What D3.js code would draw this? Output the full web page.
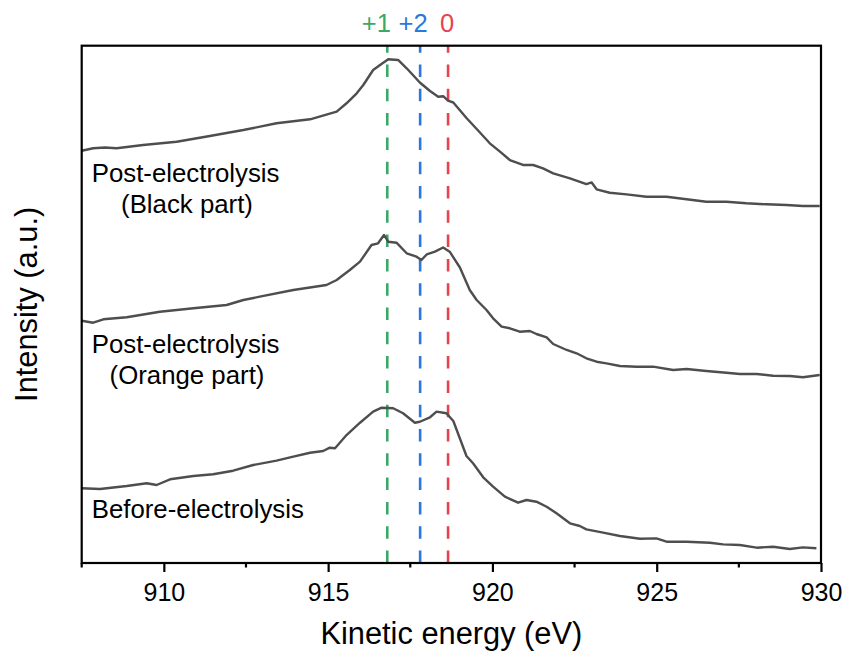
<!DOCTYPE html>
<html>
<head>
<meta charset="utf-8">
<script src="https://cdn.jsdelivr.net/npm/d3@7"></script>
<style>
  html, body { margin: 0; padding: 0; background: #fff; }
  svg { display: block; font-family: "Liberation Sans", Arial, Helvetica, sans-serif; }
</style>
</head>
<body>
<svg id="chart" width="847" height="655"></svg>
<script>
// Cu LMM Auger spectra, stacked with vertical offsets (a.u.)
const blackEnergy = [907.50, 907.85, 908.21, 908.56, 909.37, 910.39, 911.40, 912.42, 913.43, 914.45, 915.26, 915.56, 915.87, 916.07, 916.37, 916.58, 916.83, 917.13, 917.39, 917.79, 918.10, 918.35, 918.50, 918.65, 918.81, 919.21, 919.62, 919.92, 920.23, 920.53, 920.93, 921.24, 921.54, 921.85, 922.36, 922.86, 923.02, 923.17, 923.57, 924.08, 924.69, 925.30, 925.91, 926.51, 927.12, 927.73, 928.34, 928.95, 929.45, 929.96];
const blackIntensity = [79.70, 80.17, 80.32, 80.17, 80.80, 81.44, 82.54, 83.70, 85.00, 85.77, 87.24, 88.87, 90.80, 92.40, 95.30, 96.27, 97.37, 97.24, 95.63, 92.89, 91.24, 90.14, 90.24, 89.37, 89.02, 86.02, 83.22, 81.13, 79.51, 77.90, 76.94, 76.94, 76.30, 75.33, 74.37, 73.26, 73.56, 72.24, 71.58, 71.27, 70.81, 70.81, 70.31, 69.84, 69.84, 69.53, 69.34, 69.21, 69.01, 69.01];

const orangeEnergy = [907.50, 907.85, 908.16, 908.87, 909.88, 910.90, 911.91, 912.42, 912.92, 913.94, 914.95, 915.26, 915.66, 915.97, 916.32, 916.52, 916.70, 916.83, 917.08, 917.39, 917.69, 917.84, 918.00, 918.25, 918.50, 918.70, 919.01, 919.31, 919.52, 919.82, 920.02, 920.28, 920.53, 920.83, 921.14, 921.34, 921.65, 921.85, 922.26, 922.56, 922.86, 923.17, 923.47, 923.88, 924.39, 924.89, 925.50, 925.91, 926.51, 927.12, 927.53, 928.04, 928.54, 929.05, 929.45, 929.96];
const orangeIntensity = [46.84, 46.45, 47.11, 47.50, 48.58, 49.24, 49.87, 50.84, 51.48, 52.77, 53.74, 54.71, 56.64, 58.25, 61.47, 61.80, 63.41, 62.11, 61.92, 59.87, 59.21, 58.57, 59.64, 60.18, 60.99, 60.18, 57.12, 52.77, 50.84, 48.91, 47.30, 45.68, 45.37, 44.71, 44.85, 44.27, 43.63, 42.33, 41.18, 40.54, 39.57, 38.91, 38.60, 38.08, 37.95, 37.95, 37.31, 37.50, 37.12, 36.79, 36.54, 36.54, 36.21, 36.15, 35.90, 36.34];

const beforeEnergy = [907.50, 908.06, 908.87, 909.48, 909.78, 910.19, 910.90, 911.50, 912.11, 912.72, 913.43, 913.94, 914.45, 914.85, 915.05, 915.21, 915.56, 915.97, 916.37, 916.63, 916.98, 917.28, 917.64, 917.79, 918.10, 918.30, 918.60, 918.81, 919.21, 919.41, 919.72, 920.02, 920.38, 920.78, 921.04, 921.34, 921.65, 921.95, 922.36, 922.66, 922.86, 923.37, 923.88, 924.49, 924.99, 925.30, 925.91, 926.62, 927.02, 927.53, 928.04, 928.54, 929.05, 929.45, 929.86];
const beforeIntensity = [14.44, 14.31, 14.88, 15.41, 15.08, 16.18, 16.82, 17.15, 17.84, 18.94, 19.78, 20.55, 21.32, 21.65, 22.29, 22.17, 24.74, 27.12, 29.25, 30.02, 29.91, 28.94, 27.12, 27.31, 28.17, 29.25, 28.94, 27.45, 20.68, 19.27, 16.57, 14.75, 12.82, 11.66, 12.18, 11.85, 10.88, 9.61, 7.67, 7.15, 6.51, 5.86, 5.22, 4.70, 4.77, 4.12, 4.12, 3.92, 3.61, 3.48, 2.96, 3.15, 2.71, 3.03, 2.84];

// Reference kinetic energies for the Cu oxidation states
const stateLabels = ["+1", "+2", "0"];
const stateEnergies = [916.8, 917.8, 918.65];
const stateColors = ["#3aa968", "#2a78dd", "#e8434c"];

const xTickValues = [910, 915, 920, 925, 930];
const xDomain = [907.5, 930];
const yDomain = [0, 100];

const series = [
  { name: ["Post-electrolysis", "(Black part)"], energy: blackEnergy, intensity: blackIntensity },
  { name: ["Post-electrolysis", "(Orange part)"], energy: orangeEnergy, intensity: orangeIntensity },
  { name: ["Before-electrolysis"], energy: beforeEnergy, intensity: beforeIntensity }
];

// Layout
const W = 847, H = 655;
const margin = { top: 45.7, right: 26, bottom: 92, left: 81.7 };
const innerW = W - margin.left - margin.right;
const innerH = H - margin.top - margin.bottom;

const svg = d3.select("#chart");
const g = svg.append("g").attr("transform", `translate(${margin.left},${margin.top})`);

const x = d3.scaleLinear().domain(xDomain).range([0, innerW]);
const y = d3.scaleLinear().domain(yDomain).range([innerH, 0]);

// Reference lines, dashes running up from the bottom axis
g.selectAll("line.state")
  .data(stateEnergies)
  .join("line")
  .attr("class", "state")
  .attr("x1", d => x(d)).attr("x2", d => x(d))
  .attr("y1", innerH).attr("y2", 0)
  .attr("stroke", (d, i) => stateColors[i])
  .attr("stroke-width", 2.6)
  .attr("stroke-dasharray", "12.5,11.8");

// Spectra
const line = d3.line()
  .x(d => x(d[0]))
  .y(d => y(d[1]));

g.selectAll("path.spec")
  .data(series)
  .join("path")
  .attr("class", "spec")
  .attr("d", s => line(d3.zip(s.energy, s.intensity)))
  .attr("fill", "none")
  .attr("stroke", "#4e4e4e")
  .attr("stroke-width", 2.4)
  .attr("stroke-linejoin", "round");

// Frame
g.append("rect")
  .attr("x", 0).attr("y", 0)
  .attr("width", innerW).attr("height", innerH)
  .attr("fill", "none")
  .attr("stroke", "#000")
  .attr("stroke-width", 2.2);

// Bottom axis: major ticks with labels, minor ticks in between
const xAxis = d3.axisBottom(x)
  .tickValues(xTickValues)
  .tickSize(9)
  .tickPadding(6)
  .tickFormat(d3.format("d"));
const axG = g.append("g").attr("transform", `translate(0,${innerH})`).call(xAxis);
axG.select(".domain").remove();
axG.selectAll(".tick line").attr("stroke", "#000").attr("stroke-width", 2.2);
axG.selectAll(".tick text")
  .attr("fill", "#000")
  .attr("font-size", 25)
  .attr("font-family", "'Liberation Sans', Arial, Helvetica, sans-serif")
  .attr("y", 0).attr("dy", "1.52em");

const minorTicks = d3.range(xDomain[0], xDomain[1] + 0.01, 2.5).filter(v => !xTickValues.includes(v));
g.append("g").selectAll("line")
  .data(minorTicks)
  .join("line")
  .attr("x1", d => x(d)).attr("x2", d => x(d))
  .attr("y1", innerH).attr("y2", innerH + 4.5)
  .attr("stroke", "#000").attr("stroke-width", 2.2);

// Oxidation-state labels above the frame
const labelShift = [-11, -7, -1];
svg.selectAll("text.state")
  .data(stateLabels)
  .join("text")
  .attr("class", "state")
  .attr("x", (d, i) => margin.left + x(stateEnergies[i]) + labelShift[i])
  .attr("y", 31.5)
  .attr("text-anchor", "middle")
  .attr("font-size", 25.5)
  .attr("fill", (d, i) => stateColors[i])
  .text(d => d);

// Curve labels
const labelBaselines = [181.7, 352.8, 518.3];
series.forEach((s, i) => {
  const t = svg.append("text")
    .attr("font-size", 25.8)
    .attr("fill", "#000");
  s.name.forEach((part, j) => {
    t.append("tspan")
      .attr("x", j === 0 ? 91.7 : 187)
      .attr("y", labelBaselines[i] + j * 31.5)
      .attr("text-anchor", j === 0 ? "start" : "middle")
      .text(part);
  });
});

// Axis titles
svg.append("text")
  .attr("x", margin.left + innerW / 2)
  .attr("y", 643.5)
  .attr("text-anchor", "middle")
  .attr("font-size", 30.8)
  .attr("fill", "#000")
  .text("Kinetic energy (eV)");

svg.append("text")
  .attr("transform", `translate(36.5,${margin.top + innerH / 2}) rotate(-90)`)
  .attr("text-anchor", "middle")
  .attr("font-size", 30.8)
  .attr("fill", "#000")
  .text("Intensity (a.u.)");
</script>
</body>
</html>
